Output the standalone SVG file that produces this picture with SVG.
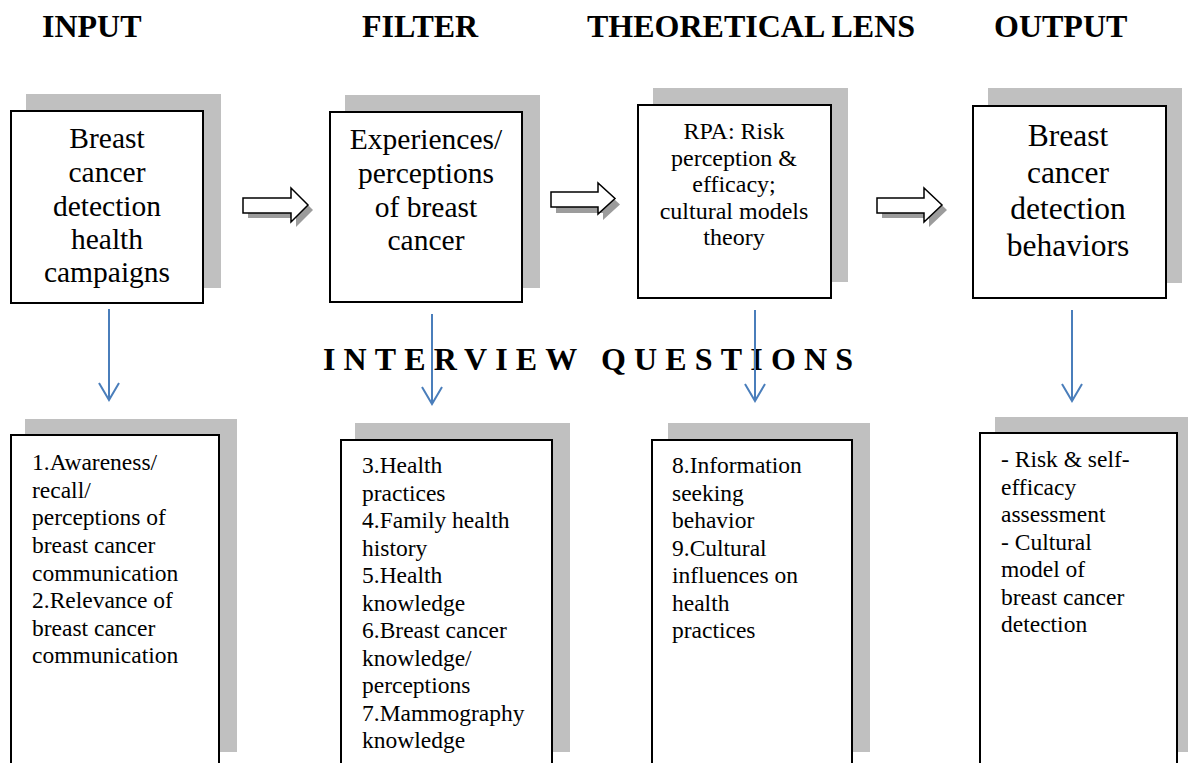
<svg xmlns="http://www.w3.org/2000/svg" width="1189" height="763" viewBox="0 0 1189 763">
<style>
.bg{fill:#ffffff}
.sh{fill:#c0c0c0}
.box{fill:#ffffff;stroke:#000000;stroke-width:2}
.title{font-family:"Liberation Serif","Times New Roman",serif;font-weight:bold;font-size:32px;fill:#000}
.big{font-family:"Liberation Serif","Times New Roman",serif;font-size:29.5px;text-anchor:middle;fill:#000}
.big4{font-family:"Liberation Serif","Times New Roman",serif;font-size:31.5px;text-anchor:middle;fill:#000}
.mid{font-family:"Liberation Serif","Times New Roman",serif;font-size:24px;text-anchor:middle;fill:#000}
.sm{font-family:"Liberation Serif","Times New Roman",serif;font-size:23.5px;fill:#000}
.blk{fill:#ffffff;stroke:#000;stroke-width:1.5}
.blksh{fill:#9c9c9c}
.blue{stroke:#4a7ebb;stroke-width:2;fill:none}
</style>
<rect class="bg" x="0" y="0" width="1189" height="763"/>
<g id="titles">
<text class="title" x="42" y="37">INPUT</text>
<text class="title" x="362" y="37">FILTER</text>
<text class="title" x="587" y="37">THEORETICAL LENS</text>
<text class="title" x="994" y="37">OUTPUT</text>
<text class="title" x="323" y="370" font-size="30" textLength="530" lengthAdjust="spacing">INTERVIEW QUESTIONS</text>
</g>
<g id="node-input">
<rect class="sh" x="26" y="94" width="195" height="194"/>
<rect class="box" x="11" y="111" width="192" height="192"/>
<text class="big" font-family="Liberation Serif, serif" x="107"><tspan x="107" y="148">Breast</tspan><tspan x="107" y="182">cancer</tspan><tspan x="107" y="215.5">detection</tspan><tspan x="107" y="249">health</tspan><tspan x="107" y="282">campaigns</tspan></text>
</g>
<g id="node-filter">
<rect class="sh" x="345" y="95" width="195" height="193"/>
<rect class="box" x="330" y="112" width="192" height="190"/>
<text class="big" font-family="Liberation Serif, serif" x="426"><tspan x="426" y="149">Experiences/</tspan><tspan x="426" y="183">perceptions</tspan><tspan x="426" y="216.5">of breast</tspan><tspan x="426" y="250">cancer</tspan></text>
</g>
<g id="node-lens">
<rect class="sh" x="653" y="88" width="195" height="194"/>
<rect class="box" x="638" y="105" width="193" height="193"/>
<text class="mid" font-family="Liberation Serif, serif" x="734"><tspan x="734" y="139">RPA: Risk</tspan><tspan x="734" y="166">perception &amp;</tspan><tspan x="734" y="192">efficacy;</tspan><tspan x="734" y="219">cultural models</tspan><tspan x="734" y="245">theory</tspan></text>
</g>
<g id="node-output">
<rect class="sh" x="988" y="88" width="194" height="195"/>
<rect class="box" x="973" y="106" width="193" height="192"/>
<text class="big4" font-family="Liberation Serif, serif" x="1068"><tspan x="1068" y="146">Breast</tspan><tspan x="1068" y="182.5">cancer</tspan><tspan x="1068" y="219">detection</tspan><tspan x="1068" y="255.5">behaviors</tspan></text>
</g>
<g id="node-q1">
<rect class="sh" x="25" y="419" width="212" height="333"/>
<rect class="box" x="11" y="435" width="208" height="340"/>
<text class="sm" font-family="Liberation Serif, serif" x="32"><tspan x="32" y="470">1.Awareness/</tspan><tspan x="32" y="497.5">recall/</tspan><tspan x="32" y="525">perceptions of</tspan><tspan x="32" y="553">breast cancer</tspan><tspan x="32" y="580.5">communication</tspan><tspan x="32" y="608">2.Relevance of</tspan><tspan x="32" y="636">breast cancer</tspan><tspan x="32" y="663">communication</tspan></text>
</g>
<g id="node-q2">
<rect class="sh" x="355" y="423" width="215" height="329"/>
<rect class="box" x="341" y="440" width="211" height="340"/>
<text class="sm" font-family="Liberation Serif, serif" x="362"><tspan x="362" y="473">3.Health</tspan><tspan x="362" y="500.5">practices</tspan><tspan x="362" y="528">4.Family health</tspan><tspan x="362" y="555.5">history</tspan><tspan x="362" y="583">5.Health</tspan><tspan x="362" y="610.5">knowledge</tspan><tspan x="362" y="638">6.Breast cancer</tspan><tspan x="362" y="665.5">knowledge/</tspan><tspan x="362" y="693">perceptions</tspan><tspan x="362" y="720.5">7.Mammography</tspan><tspan x="362" y="748">knowledge</tspan></text>
</g>
<g id="node-q3">
<rect class="sh" x="668" y="423" width="202" height="329"/>
<rect class="box" x="652" y="440" width="200" height="340"/>
<text class="sm" font-family="Liberation Serif, serif" x="672"><tspan x="672" y="473">8.Information</tspan><tspan x="672" y="500.5">seeking</tspan><tspan x="672" y="528">behavior</tspan><tspan x="672" y="555.5">9.Cultural</tspan><tspan x="672" y="583">influences on</tspan><tspan x="672" y="610.5">health</tspan><tspan x="672" y="638">practices</tspan></text>
</g>
<g id="node-q4">
<rect class="sh" x="995" y="417" width="193" height="335"/>
<rect class="box" x="980" y="433" width="197" height="340"/>
<text class="sm" font-family="Liberation Serif, serif" x="1001"><tspan x="1001" y="467">- Risk &amp; self-</tspan><tspan x="1001" y="494.5">efficacy</tspan><tspan x="1001" y="522">assessment</tspan><tspan x="1001" y="549.5">- Cultural</tspan><tspan x="1001" y="577">model of</tspan><tspan x="1001" y="604.5">breast cancer</tspan><tspan x="1001" y="632">detection</tspan></text>
</g>
<g id="connectors">
<polygon class="blksh" points="248,203 296,203 296,193 313,210 296,227 296,218 248,218"/>
<polygon class="blk" points="243,198 291,198 291,188 308,205 291,222 291,213 243,213"/>
<polygon class="blksh" points="556,198 603,198 603,189 620,204.5 603,220 603,213 556,213"/>
<polygon class="blk" points="551,192 598,192 598,183 615,198.5 598,214 598,207 551,207"/>
<polygon class="blksh" points="882,203 929,203 929,193 947,210 929,227 929,218 882,218"/>
<polygon class="blk" points="877,198 924,198 924,188 942,205 924,222 924,213 877,213"/>
<path class="blue" d="M109,309 L109,400 M99,383 L109,400 L119,383"/>
<path class="blue" d="M432,314 L432,404 M422,387 L432,404 L442,387"/>
<path class="blue" d="M755,310 L755,401 M745,384 L755,401 L765,384"/>
<path class="blue" d="M1072,310 L1072,401 M1062,384 L1072,401 L1082,384"/>
</g>
</svg>
